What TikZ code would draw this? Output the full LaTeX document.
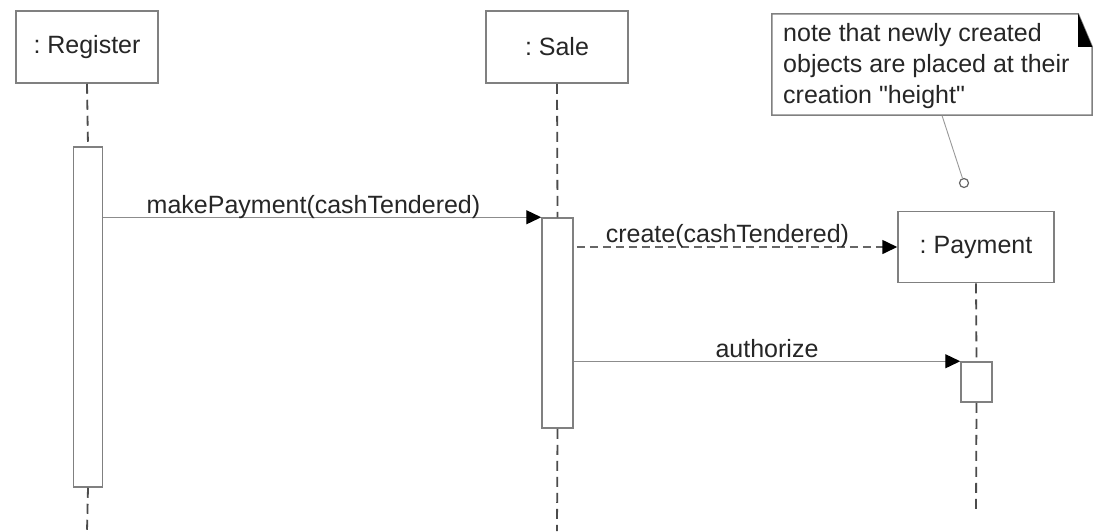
\documentclass[tikz,border=0pt]{standalone}
\usepackage{fontspec}
\setmainfont{Liberation Sans}
\usetikzlibrary{arrows.meta,calc}
\frenchspacing
\begin{document}
\begin{tikzpicture}[x=1pt,y=-1pt,
  every node/.style={font=\fontsize{25}{31}\selectfont, text=black!85},
  obj/.style={draw=black!50, line width=1.5pt, fill=white, minimum width=142pt, minimum height=72pt, inner sep=0pt},
  act/.style={draw=black!50, line width=1.5pt, fill=white, inner sep=0pt, minimum width=29pt},
  life/.style={draw=black!70, line width=1.8pt, dash pattern=on 10pt off 6pt},
  msg/.style={draw=black!45, line width=1.3pt, -{Triangle[length=15pt,width=14pt,black]}},
  dmsg/.style={msg, draw=black!60, line width=1.6pt, dash pattern=on 8pt off 5pt},
  lbl/.style={midway, above, inner sep=0pt, yshift=-1.5pt, text height=18pt, text depth=5pt},
  notebox/.style={draw=black!50, line width=1.5pt},
  notelink/.style={draw=black!40, line width=0.9pt}
]
\useasboundingbox[fill=white] (0,0) rectangle (1094,531);

% objects
\node[obj] (reg) at (87,47) {: Register};
\node[obj] (sale) at (557,47) {: Sale};
\node[obj, minimum width=156pt, minimum height=71pt] (pay) at (976,247) {: Payment};

% activations
\node[act, minimum height=340pt] (regact) at (88,317) {};
\node[act, minimum width=31pt, minimum height=210pt] (saleact) at (557.5,323) {};
\node[act, minimum width=31pt, minimum height=40pt] (payact) at (976.5,382) {};

% lifeline ends
\coordinate (regend) at (87,531);
\coordinate (saleend) at (557,531);
\coordinate (payend) at (976,513);

% lifelines
\draw[life] (reg.south) -- (regact.north);
\draw[life] (regact.south) -- (regend);
\draw[life] (sale.south) -- (saleact.north);
\draw[life] (saleact.south) -- (saleend);
\draw[life] (pay.south) -- (payact.north);
\draw[life] (payact.south) -- (payend);

% messages
\draw[msg] (regact.east |- saleact.north) -- node[lbl, pos=0.48] {makePayment(cashTendered)} (saleact.north west);
\draw[dmsg] ($(saleact.east |- pay.west)+(3,0)$) -- node[lbl, pos=0.47] {create(cashTendered)} (pay.west);
\draw[msg] (saleact.east |- payact.north) -- node[lbl] {authorize} (payact.north west);

% note
\node[minimum width=320pt, minimum height=101pt, inner sep=0pt] (note) at (932,64.5) {};
\node[anchor=north west, align=left, inner sep=0pt] (notetext) at (783,23)
  {note that newly created\\objects are placed at their\\creation \textquotedbl height\textquotedbl};
\draw[notebox] (note.north west) -- ($(note.north east)+(-14,0)$) -- ($(note.north east)+(0,33)$)
  -- (note.south east) -- (note.south west) -- cycle;
\fill[black] ($(note.north east)+(-14,0)$) -- ($(note.north east)+(-14,33)$) -- ($(note.north east)+(0,33)$) -- cycle;
\node[circle, draw=black!60, line width=1.2pt, fill=white, minimum size=9pt, inner sep=0pt] (pin) at (964,183) {};
\coordinate (notefoot) at (942,115.5);
\draw[notelink] (notefoot) -- (pin);
\end{tikzpicture}
\end{document}
